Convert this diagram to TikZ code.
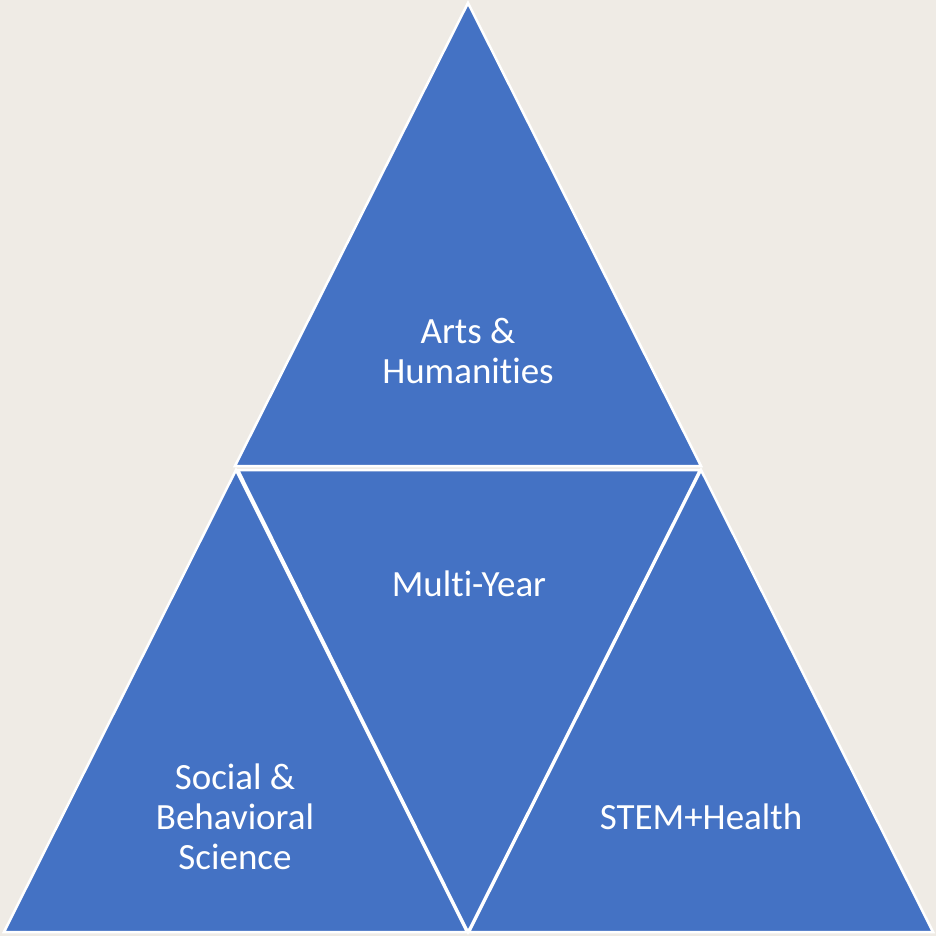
\documentclass[tikz,border=0pt]{standalone}
\usepackage{fontspec}
\setmainfont{Carlito}[Ligatures={NoCommon,NoContextual},RawFeature={-liga,-clig,-calt,-dlig}]
\definecolor{bg}{HTML}{EFEBE5}
\definecolor{tri}{HTML}{4472C4}
\begin{document}
\begin{tikzpicture}[x=1pt,y=-1pt,
  tribox/.style={fill=tri,draw=white,line width=2.5pt,line join=miter},
  lbl/.style={text=white,font=\fontsize{37}{40}\selectfont,align=center,inner sep=0pt}]
\fill[bg] (0,0) rectangle (936,936);
\useasboundingbox (0,0) rectangle (936,936);
% triangles
\path[tribox] (468,3) -- (701,466) -- (235,466) -- cycle;
\path[tribox] (236,470) -- (467,932) -- (4,932) -- cycle;
\path[tribox] (238,470) -- (700,470) -- (468,932) -- cycle;
\path[tribox] (701,470) -- (933,932) -- (469,932) -- cycle;
% labels
\node[lbl] (arts) at (468,351) {Arts \&\\Humanit\kern0pt ies};
\node[lbl] (multi) at (469,584) {Mult\kern0pt i-Year};
\node[lbl] (social) at (235,817) {Social \&\\Behavioral\\Science};
\node[lbl] (stem) at (701,817) {STEM+Health};
\end{tikzpicture}
\end{document}
